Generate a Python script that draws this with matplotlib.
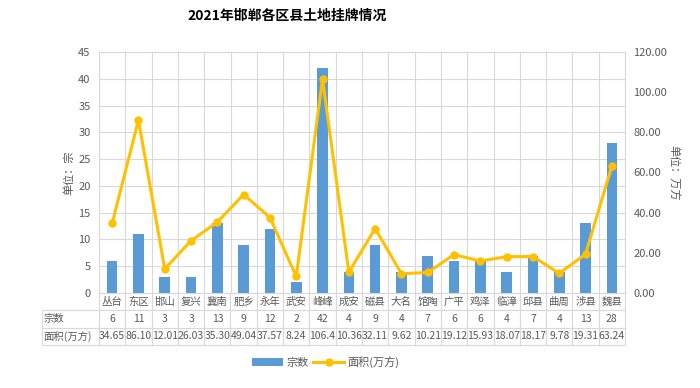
import matplotlib
matplotlib.use("Agg")
import matplotlib.pyplot as plt
import numpy as np

plt.rcParams['font.family'] = ['Noto Sans CJK SC', 'DejaVu Sans']

categories = ['丛台', '东区', '邯山', '复兴', '冀南', '肥乡', '永年', '武安', '峰峰', '成安',
              '磁县', '大名', '馆陶', '广平', '鸡泽', '临漳', '邱县', '曲周', '涉县', '魏县']
counts = [6, 11, 3, 3, 13, 9, 12, 2, 42, 4, 9, 4, 7, 6, 6, 4, 7, 4, 13, 28]
areas = [34.65, 86.10, 12.01, 26.03, 35.30, 49.04, 37.57, 8.24, 106.4, 10.36,
         32.11, 9.62, 10.21, 19.12, 15.93, 18.07, 18.17, 9.78, 19.31, 63.24]
area_labels = ['34.65', '86.10', '12.01', '26.03', '35.30', '49.04', '37.57', '8.24', '106.4', '10.36',
               '32.11', '9.62', '10.21', '19.12', '15.93', '18.07', '18.17', '9.78', '19.31', '63.24']
series_names = ['宗数', '面积(万方)']
title = '2021年邯郸各区县土地挂牌情况'

TXT = '#595959'
GRID = '#D9D9D9'
BLUE = '#5B9BD5'
GOLD = '#FFC000'

fig = plt.figure(figsize=(7, 3.88), dpi=100)
W, H = 700, 388
L, R, T, B = 99, 625, 52, 293
ax = fig.add_axes([L / W, 1 - B / H, (R - L) / W, (B - T) / H])
n = len(categories)
x = np.arange(n)

bars = ax.bar(x, counts, width=0.4, color=BLUE, zorder=2, label=series_names[0])
ax.set_xlim(-0.5, n - 0.5)
ax.set_ylim(0, 45)
ax.set_yticks(np.arange(0, 46, 5))
ax.set_xticks([])
ax.set_xticks(np.arange(-0.5, n, 1), minor=True)
ax.grid(axis='y', color=GRID, lw=0.8, zorder=0)
ax.grid(axis='x', which='minor', color=GRID, lw=0.8, zorder=0)
ax.tick_params(axis='x', which='both', length=0)
ax.tick_params(axis='y', length=0, labelsize=8, labelcolor=TXT, pad=6)
for s in ax.spines.values():
    s.set_color(GRID)
    s.set_linewidth(0.8)
ax.set_ylabel('单位：宗', fontsize=8, color=TXT, labelpad=3)

ax2 = ax.twinx()
line, = ax2.plot(x, areas, color=GOLD, lw=2.2, marker='o', markersize=5, zorder=3,
                 label=series_names[1])
ax2.set_ylim(0, 120)
ax2.set_yticks(np.arange(0, 121, 20))
ax2.set_yticklabels([f'{v:.2f}' for v in np.arange(0, 121, 20)])
ax2.tick_params(axis='y', length=0, labelsize=8, labelcolor=TXT, pad=6)
for s in ax2.spines.values():
    s.set_visible(False)
ax2.set_ylabel('单位：万方', fontsize=8, color=TXT, rotation=-90, labelpad=9)
ax2.set_xlim(-0.5, n - 0.5)

# data table
label_w = 57
total_w = (R - L) + label_w
cell_text = [[series_names[0]] + [str(c) for c in counts],
             [series_names[1]] + area_labels]
col_w = [label_w / total_w] + [(R - L) / n / total_w] * n
tb = ax.table(cellText=cell_text, colLabels=[''] + categories, colWidths=col_w,
              cellLoc='center',
              bbox=[-label_w / (R - L), -52 / (B - T), total_w / (R - L), 52 / (B - T)])
tb.auto_set_font_size(False)
tb.set_fontsize(7.5)
for (r, c), cell in tb.get_celld().items():
    cell.set_edgecolor(GRID)
    cell.set_linewidth(0.8)
    cell.get_text().set_color(TXT)
    cell.PAD = 0.02
    if c == 0:
        cell.get_text().set_ha('left')
        cell._loc = 'left'
    if r == 0 and c == 0:
        cell.visible_edges = ''

fig.text(287 / W, 1 - 16 / H, title, ha='center', va='center', fontsize=10,
         fontweight='bold', color='black')

fig.legend(handles=[bars, line], labels=series_names, loc='center',
           bbox_to_anchor=(326 / W, 1 - 362 / H), ncol=2, frameon=False,
           fontsize=8, labelcolor=TXT, handlelength=2.8, columnspacing=0.4,
           handletextpad=0.3)

fig.savefig('out.png', dpi=100)
